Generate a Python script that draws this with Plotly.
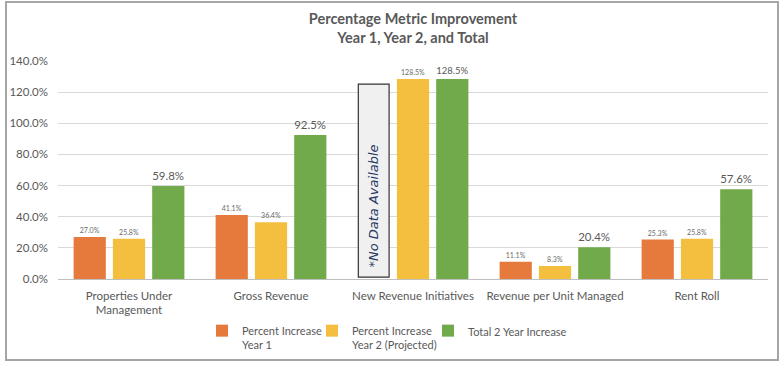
import plotly.graph_objects as go

categories = ["Properties Under<br>Management", "Gross Revenue", "New Revenue Initiatives",
              "Revenue per Unit Managed", "Rent Roll"]
year1 = [27.0, 41.1, None, 11.1, 25.3]
year2 = [25.8, 36.4, 128.5, 8.3, 25.8]
total = [59.8, 92.5, 128.5, 20.4, 57.6]
series_names = ["Percent Increase<br>Year 1", "Percent Increase<br>Year 2 (Projected)", "Total 2 Year Increase"]
colors = ["#E57A3C", "#F4BF3F", "#71AA4A"]
tick_vals = [0, 20, 40, 60, 80, 100, 120, 140]
no_data_index = 2
no_data_text = "*No Data Available"

FONT = "Lato, Liberation Sans, sans-serif"
GREY = "#595959"
BARGAP = 0.17
BARGROUPGAP = 0.18
PL, PR, PT, PB = 58, 16, 61, 87
PW, PH = 784 - PL - PR, 366 - PT - PB

legend_ids = ["legend", "legend2", "legend3"]
legend_text_x = [235, 345, 461]  # pixel where legend text starts

fig = go.Figure()
for vals, name, col, big, lid in zip([year1, year2, total], series_names, colors, [False, False, True], legend_ids):
    fig.add_trace(go.Bar(
        x=list(range(len(categories))), y=vals, name=name, legend=lid,
        marker=dict(color=col, line=dict(width=0)),
        text=[None if v is None else f"{v:.1f}%" for v in vals],
        textposition="outside", cliponaxis=False,
        textfont=dict(size=12 if big else 7, color=GREY if big else "#6b6b6b", family=FONT),
        hoverinfo="skip",
    ))

# "No Data Available" box at the Year 1 slot of the missing category
slot = (1 - BARGAP) / 3
cx = no_data_index - slot
half = slot * (1 - BARGROUPGAP) / 2 - 0.005
fig.add_shape(type="rect", xref="x", yref="y", x0=cx - half, x1=cx + half, y0=1.2, y1=125.2,
              fillcolor="#F0F0F0", line=dict(color="#333333", width=1.2), layer="above")
fig.add_annotation(xref="x", yref="y", x=cx, y=47, text=f"<i>{no_data_text}</i>", textangle=-90,
                   showarrow=False, font=dict(size=13, color="#1F3864", family="DejaVu Sans, sans-serif"))

# outer frame
fig.add_shape(type="rect", xref="paper", yref="paper", x0=-(PL - 6) / PW, x1=1 + (PR - 6) / PW,
              y0=-(PB - 6) / PH, y1=1 + (PT - 2) / PH, line=dict(color="#A6A6A6", width=2), layer="below")

legend_common = dict(orientation="h", xanchor="left", yanchor="top", yref="paper",
                     y=-38 / PH, font=dict(size=11, color=GREY, family=FONT), valign="top",
                     itemwidth=30, bgcolor="rgba(0,0,0,0)")
legends = {lid: dict(legend_common, x=(tx - 33 - PL) / PW) for lid, tx in zip(legend_ids, legend_text_x)}

fig.update_layout(
    width=784, height=366,
    margin=dict(l=PL, r=PR, t=PT, b=PB, autoexpand=False),
    paper_bgcolor="white", plot_bgcolor="white",
    barmode="group", bargap=BARGAP, bargroupgap=BARGROUPGAP,
    font=dict(family=FONT, color=GREY, size=11),
    title=dict(text="<b>Percentage Metric Improvement<br>Year 1, Year 2, and Total</b>",
               x=0.5, xref="paper", xanchor="center", y=0.934, yanchor="top",
               font=dict(size=14.5, color=GREY, family=FONT)),
    showlegend=True,
    **legends,
    xaxis=dict(tickmode="array", tickvals=list(range(len(categories))), ticktext=categories,
               range=[-0.5, len(categories) - 0.5], showgrid=False, ticks="", showline=False,
               automargin=False, ticklabelstandoff=8, tickfont=dict(size=11.5, color=GREY, family=FONT)),
    yaxis=dict(range=[0, 140], tickvals=tick_vals, ticktext=[f"{v:.1f}%" for v in tick_vals],
               showgrid=True, gridcolor="#D9D9D9", gridwidth=1, zeroline=True, zerolinecolor="#BFBFBF",
               zerolinewidth=1, showline=False, ticks="", ticklen=0, automargin=False,
               ticklabelstandoff=9, tickfont=dict(size=11.5, color=GREY, family=FONT)),
)

fig.write_html("out.html", config={"displayModeBar": False},
               post_script="document.body.style.margin='0';")
